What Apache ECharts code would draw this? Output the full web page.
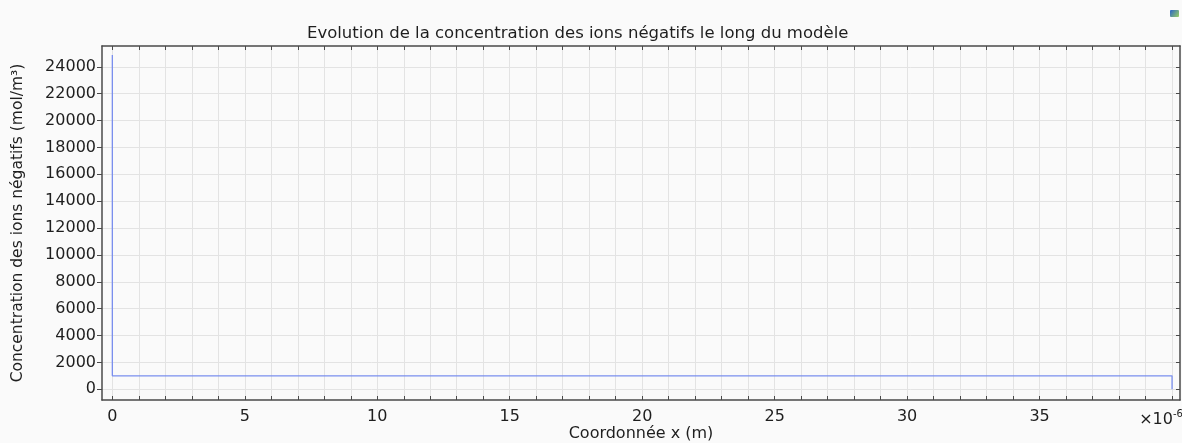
<!DOCTYPE html>
<html>
<head>
<meta charset="utf-8">
<title>Evolution de la concentration des ions négatifs</title>
<script src="https://cdn.jsdelivr.net/npm/echarts@6/dist/echarts.min.js"></script>
<style>
  html, body { margin: 0; padding: 0; background: #fafafa; }
  #chart { width: 1182px; height: 443px; }
</style>
</head>
<body>
<div id="chart"></div>
<script>
// Position along the model (µm, shown with a ×10⁻⁶ factor) and negative-ion concentration (mol/m³)
const positionX = [0, 0, 40, 40];
const concentration = [24870, 1000, 1000, 0];

// Tick positions and labelled values
const xTicks = [0, 1, 2, 3, 4, 5, 6, 7, 8, 9, 10, 11, 12, 13, 14, 15, 16, 17, 18, 19, 20,
                21, 22, 23, 24, 25, 26, 27, 28, 29, 30, 31, 32, 33, 34, 35, 36, 37, 38, 39, 40];
const xLabels = [0, 5, 10, 15, 20, 25, 30, 35, 40];
const yTicks = [0, 2000, 4000, 6000, 8000, 10000, 12000, 14000, 16000, 18000, 20000, 22000, 24000];

const FONT = 'DejaVu Sans';
const textColor = '#1e1e1e';
const frameColor = '#4a4a4a';
const gridColor = '#e3e3e3';
const xRange = { min: -0.39, max: 40.3 };
const yRange = { min: -796, max: 25545 };

const chart = echarts.init(document.getElementById('chart'), null, { renderer: 'canvas' });

chart.setOption({
  backgroundColor: '#fafafa',
  animation: false,
  title: {
    text: 'Evolution de la concentration des ions négatifs le long du modèle',
    left: 302,
    top: 20,
    textStyle: { fontFamily: FONT, fontSize: 16.5, fontWeight: 'normal', color: textColor }
  },
  grid: { left: 102, right: 2, top: 46, bottom: 43, containLabel: false, outerBoundsMode: 'none' },
  xAxis: [
    {
      type: 'value',
      position: 'bottom',
      min: xRange.min,
      max: xRange.max,
      name: 'Coordonnée x (m)',
      nameLocation: 'middle',
      nameGap: 26,
      nameMoveOverlap: false,
      nameTextStyle: { fontFamily: FONT, fontSize: 16, color: textColor },
      axisLine: { show: true, onZero: false, lineStyle: { color: frameColor, width: 1.5 } },
      axisTick: { show: true, inside: true, length: 4, customValues: xTicks, lineStyle: { color: frameColor } },
      axisLabel: {
        customValues: xLabels,
        margin: 9,
        fontFamily: FONT,
        fontSize: 16,
        color: textColor,
        formatter: function (v) {
          return v === 40 ? '{m|×10}{s|-6}' : String(v);
        },
        rich: {
          m: { fontFamily: FONT, fontSize: 16, color: textColor },
          s: { fontFamily: FONT, fontSize: 10, color: textColor, padding: [0, 22, 12, 0] }
        }
      },
      splitLine: { show: true, lineStyle: { color: gridColor, width: 1 } }
    },
    {
      type: 'value',
      position: 'top',
      min: xRange.min,
      max: xRange.max,
      axisLine: { show: true, onZero: false, lineStyle: { color: frameColor, width: 1.5 } },
      axisTick: { show: true, inside: true, length: 4, customValues: xTicks, lineStyle: { color: frameColor } },
      axisLabel: { show: false },
      splitLine: { show: false }
    }
  ],
  yAxis: [
    {
      type: 'value',
      position: 'left',
      min: yRange.min,
      max: yRange.max,
      name: 'Concentration des ions négatifs (mol/m³)',
      nameLocation: 'middle',
      nameRotate: 90,
      nameGap: 76,
      nameMoveOverlap: false,
      nameTextStyle: { fontFamily: FONT, fontSize: 15.5, color: textColor },
      axisLine: { show: true, onZero: false, lineStyle: { color: frameColor, width: 1.5 } },
      axisTick: { show: true, inside: false, length: 5, customValues: yTicks, lineStyle: { color: frameColor } },
      axisLabel: {
        customValues: yTicks,
        margin: 6,
        fontFamily: FONT,
        fontSize: 16,
        color: textColor,
        formatter: function (v) { return String(v); }
      },
      splitLine: { show: true, lineStyle: { color: gridColor, width: 1 } }
    },
    {
      type: 'value',
      position: 'right',
      min: yRange.min,
      max: yRange.max,
      axisLine: { show: true, onZero: false, lineStyle: { color: frameColor, width: 1.5 } },
      axisTick: { show: true, inside: true, length: 4, customValues: yTicks, lineStyle: { color: frameColor } },
      axisLabel: { show: false },
      splitLine: { show: false }
    }
  ],
  graphic: [
    {
      type: 'rect',
      right: 3,
      top: 10,
      shape: { width: 9, height: 7, r: 1 },
      style: {
        fill: new echarts.graphic.LinearGradient(0, 0, 1, 1, [
          { offset: 0, color: '#2a64c8' },
          { offset: 1, color: '#9ad060' }
        ])
      }
    }
  ],
  series: [
    {
      type: 'line',
      xAxisIndex: 0,
      yAxisIndex: 0,
      data: positionX.map((x, i) => [x, concentration[i]]),
      showSymbol: false,
      symbol: 'none',
      lineStyle: { color: '#7a8fee', width: 1.3 },
      clip: true
    }
  ]
});
</script>
</body>
</html>
